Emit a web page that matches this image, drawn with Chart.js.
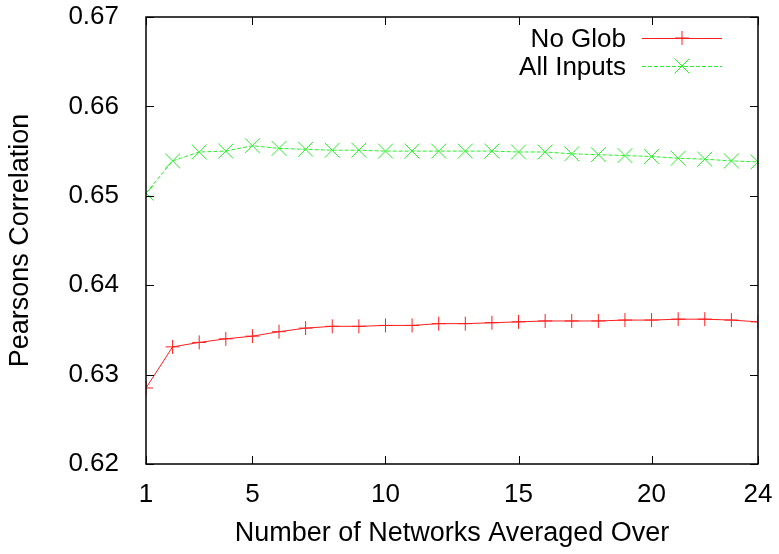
<!DOCTYPE html>
<html>
<head>
<meta charset="utf-8">
<script src="https://cdn.jsdelivr.net/npm/chart.js@4.4.1/dist/chart.umd.min.js"></script>
<style>
  html, body { margin: 0; padding: 0; background: #fff; }
  #wrap { width: 779px; height: 554px; }
</style>
</head>
<body>
<div id="wrap"><canvas id="chart"></canvas></div>
<script>
// values
const networks = [1, 2, 3, 4, 5, 6, 7, 8, 9, 10, 11, 12, 13, 14, 15, 16, 17, 18, 19, 20, 21, 22, 23, 24];
const noGlob = [0.6285, 0.6331, 0.6336, 0.6340, 0.6343, 0.6348, 0.6352, 0.6354, 0.6354, 0.6355, 0.6355, 0.6357,
                0.6357, 0.6358, 0.6359, 0.6360, 0.6360, 0.6360, 0.6361, 0.6361, 0.6362, 0.6362, 0.6361, 0.6359];
const allInputs = [0.6503, 0.6539, 0.6549, 0.6550, 0.6556, 0.6553, 0.6552, 0.6551, 0.6551, 0.6550, 0.6550, 0.6550,
                   0.6550, 0.6550, 0.6549, 0.6549, 0.6547, 0.6546, 0.6545, 0.6544, 0.6542, 0.6541, 0.6539, 0.6538];
const xTicks = [1, 5, 10, 15, 20, 24];
const yTicks = [0.62, 0.63, 0.64, 0.65, 0.66, 0.67];

const FONT = "'Liberation Sans', Arial, sans-serif";

// gnuplot style frame with inward ticks on all four sides
const framePlugin = {
    id: 'frame',
    afterDraw(chart) {
        const ctx = chart.ctx;
        const a = chart.chartArea;
        const xs = chart.scales.x, ys = chart.scales.y;
        ctx.save();
        ctx.strokeStyle = '#000';
        ctx.lineWidth = 1.5;
        ctx.strokeRect(a.left, a.top, a.right - a.left, a.bottom - a.top);
        ctx.lineWidth = 1;
        ctx.beginPath();
        xTicks.forEach(v => {
            const px = Math.round(xs.getPixelForValue(v)) + 0.5;
            ctx.moveTo(px, a.bottom); ctx.lineTo(px, a.bottom - 8);
            ctx.moveTo(px, a.top); ctx.lineTo(px, a.top + 8);
        });
        yTicks.forEach(v => {
            const py = Math.round(ys.getPixelForValue(v)) + 0.5;
            ctx.moveTo(a.left, py); ctx.lineTo(a.left + 8, py);
            ctx.moveTo(a.right, py); ctx.lineTo(a.right - 8, py);
        });
        ctx.stroke();
        ctx.restore();
    }
};

// legend: label text on the left, line sample with marker on the right
const keyPlugin = {
    id: 'key',
    afterDraw(chart) {
        const ctx = chart.ctx;
        ctx.save();
        ctx.font = '26px ' + FONT;
        ctx.textAlign = 'right';
        ctx.textBaseline = 'middle';
        chart.data.datasets.forEach((ds, i) => {
            const y = 38 + i * 28;
            ctx.fillStyle = '#000';
            ctx.fillText(ds.label, 626, y + 2);
            ctx.strokeStyle = ds.borderColor;
            ctx.lineWidth = 1;
            ctx.setLineDash(ds.borderDash || []);
            ctx.beginPath();
            ctx.moveTo(642, y + 0.5); ctx.lineTo(722, y + 0.5);
            ctx.stroke();
            ctx.setLineDash([]);
            const r = ds.pointRadius;
            const cx = 682;
            ctx.beginPath();
            if (ds.pointStyle === 'cross') {
                ctx.moveTo(cx, y - r); ctx.lineTo(cx, y + r);
                ctx.moveTo(cx - r, y); ctx.lineTo(cx + r, y);
            } else {
                const d = r * 0.707;
                ctx.moveTo(cx - d, y - d); ctx.lineTo(cx + d, y + d);
                ctx.moveTo(cx - d, y + d); ctx.lineTo(cx + d, y - d);
            }
            ctx.stroke();
        });
        ctx.restore();
    }
};

new Chart(document.getElementById('chart'), {
    type: 'line',
    data: {
        labels: networks,
        datasets: [{
            label: 'No Glob',
            data: noGlob,
            borderColor: 'rgb(255,30,30)',
            backgroundColor: 'rgb(255,30,30)',
            borderWidth: 1,
            pointStyle: 'cross',
            pointRadius: 7,
            pointBorderWidth: 1,
            tension: 0
        }, {
            label: 'All Inputs',
            data: allInputs,
            borderColor: 'rgb(40,240,40)',
            backgroundColor: 'rgb(40,240,40)',
            borderWidth: 1,
            borderDash: [4, 2],
            pointStyle: 'crossRot',
            pointRadius: 10.5,
            pointBorderWidth: 1,
            tension: 0
        }]
    },
    options: {
        responsive: true,
        maintainAspectRatio: false,
        animation: false,
        layout: { padding: { top: 17, right: 21, left: 0, bottom: 0 } },
        plugins: {
            legend: { display: false },
            tooltip: { enabled: false }
        },
        scales: {
            x: {
                type: 'linear',
                min: 1,
                max: 24,
                afterBuildTicks: s => { s.ticks = xTicks.map(v => ({ value: v })); },
                afterFit: s => { s.height = 90; s.paddingLeft = 0; s.paddingRight = 0; },
                grid: { display: false },
                border: { display: false },
                ticks: {
                    color: '#000',
                    font: { family: FONT, size: 26 },
                    padding: 7,
                    maxRotation: 0
                },
                title: {
                    display: true,
                    text: 'Number of Networks Averaged Over',
                    color: '#000',
                    font: { family: FONT, size: 27 },
                    padding: { top: 4, bottom: 4 }
                }
            },
            y: {
                min: 0.62,
                max: 0.67,
                afterBuildTicks: s => { s.ticks = yTicks.map(v => ({ value: v })); },
                afterFit: s => { s.width = 146; s.paddingTop = 0; s.paddingBottom = 0; },
                grid: { display: false },
                border: { display: false },
                ticks: {
                    color: '#000',
                    font: { family: FONT, size: 26 },
                    padding: 19,
                    callback: v => v.toFixed(2)
                },
                title: {
                    display: true,
                    text: 'Pearsons Correlation',
                    color: '#000',
                    font: { family: FONT, size: 27 },
                    padding: { top: 4, bottom: 0 }
                }
            }
        }
    },
    plugins: [framePlugin, keyPlugin]
});
</script>
</body>
</html>
